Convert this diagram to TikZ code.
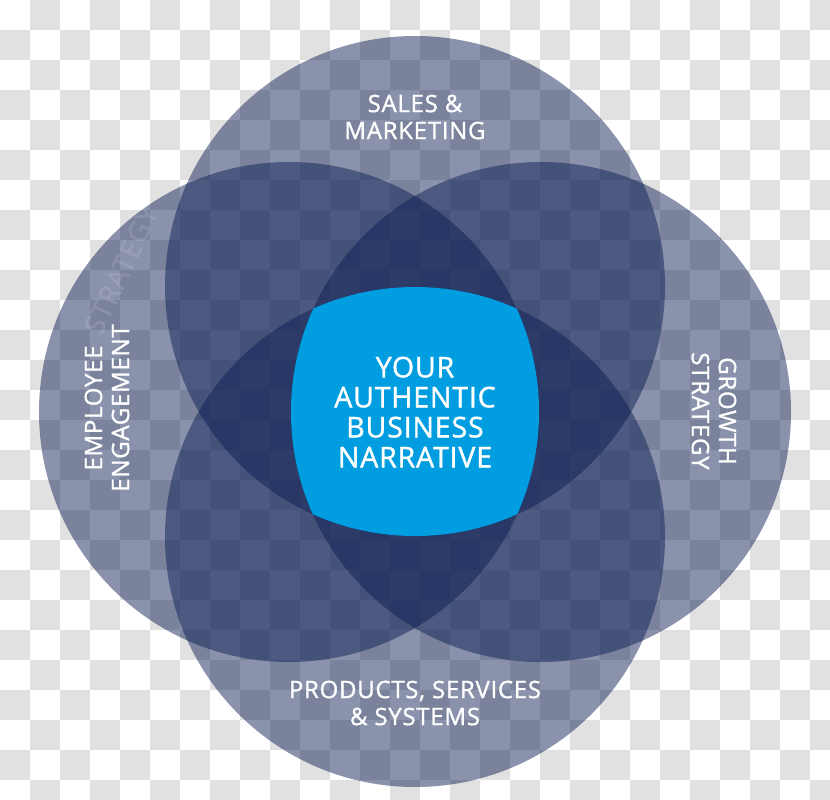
\documentclass[tikz,border=0pt]{standalone}
\usepackage{fontspec}
\setmainfont{Open Sans}[LetterSpace=3,FakeBold=1.2]
\usepackage{tikz}
\definecolor{checkgrey}{RGB}{225,225,225}
\definecolor{vennnavy}{RGB}{11,28,82}
\definecolor{coreblue}{RGB}{0,158,224}
\tikzset{
  venn/.style={fill=vennnavy,fill opacity=0.48},
  sidelabel/.style={text=white,align=center,inner sep=0pt,
    font=\fontsize{24}{27}\selectfont},
  corelabel/.style={text=white,align=center,inner sep=0pt,
    font=\fontsize{28.5}{30}\selectfont},
  ghostlabel/.style={text=white,text opacity=0.11,inner sep=0pt,
    font=\fontsize{28}{30}\selectfont}
}

\begin{document}
\begin{tikzpicture}[x=1pt,y=-1pt]
  \useasboundingbox (0,0) rectangle (830,800);
  \begin{scope}
    \clip (0,0) rectangle (830,800);
    \fill[white] (0,0) rectangle (830,800);
    \foreach \i in {0,...,27}
      \foreach \j in {0,...,13} {
        \pgfmathtruncatemacro\row{2*\j+mod(\i+1,2)}
        \fill[checkgrey] (30*\i,30*\row) rectangle ++(30,30);
      }
  \end{scope}
  \coordinate (ctop) at (415,286);
  \coordinate (cbottom) at (415,537);
  \coordinate (cleft) at (289,412);
  \coordinate (cright) at (541,412);
  \foreach \c in {ctop,cleft,cright,cbottom}
    \fill[venn] (\c) circle[radius=250];
  \begin{scope}
    \clip (ctop) circle[radius=250];
    \clip (cbottom) circle[radius=250];
    \clip (cleft) circle[radius=250];
    \fill[coreblue] (cright) circle[radius=250];
  \end{scope}
  \node[ghostlabel,rotate=65] (ghost) at (121,270) {STRATEGY};
  \node[sidelabel] (sales) at (415,117) {SALES \&\\MARKETING};
  \node[sidelabel] (products) at (415,703) {PRODUCTS, SERVICES\\\& SYSTEMS};
  \node[sidelabel,rotate=90] (employee) at (107,408) {EMPLOYEE\\ENGAGEMENT};
  \node[sidelabel,rotate=-90] (growth) at (714,411) {GROWTH\\STRATEGY};
  \node[corelabel] (narrative) at (415,412)
    {YOUR\\AUTHENTIC\\BUSINESS\\NARRATIVE};
\end{tikzpicture}
\end{document}
